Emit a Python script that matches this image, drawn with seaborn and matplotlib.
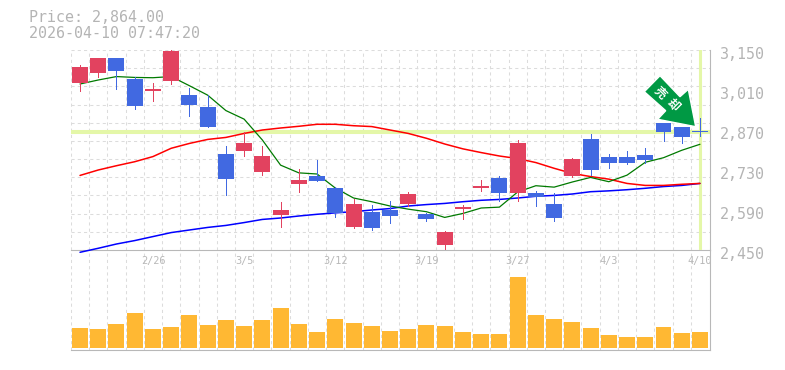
import numpy as np
import pandas as pd
import matplotlib
matplotlib.use("Agg")
import matplotlib.pyplot as plt
import seaborn as sns
from matplotlib.patches import Polygon
from matplotlib.transforms import Affine2D, ScaledTranslation

title_price = "Price: 2,864.00"
title_time = "2026-04-10 07:47:20"
last_price = 2864

opens = [3034.5,3069.5,3122,3048.5,3006.5,3041.5,2992.5,2950.5,2786,2796.5,2723,2572.5,2681,2709,2667,2530.5,2583,2590,2611,2576,2467.5,2593.5,2667,2702,2649.5,2649.5,2611,2709,2838.5,2775.5,2775.5,2782.5,2894.5,2880.5,2866.5]
closes = [3090.5,3122,3076.5,2954,3013.5,3146.5,2957.5,2880.5,2698.5,2824.5,2779,2590,2695,2691.5,2579.5,2611,2527,2569,2646,2558.5,2513,2600.5,2674,2649.5,2824.5,2635.5,2562,2768.5,2730,2754.5,2754.5,2765,2863,2845.5,2863]
highs = [3097.5,3122,3122,3055.5,3034.5,3150,3017,2992.5,2814,2863,2814,2618,2733.5,2765,2670.5,2628.5,2607.5,2621.5,2653,2579.5,2516.5,2607.5,2695,2709,2835,2656.5,2649.5,2772,2856,2786,2796.5,2807,2894.5,2880.5,2912]
lows = [3006.5,3055.5,3013.5,2943.5,2971.5,3031,2919,2880.5,2642.5,2779,2712.5,2530.5,2653,2691.5,2565.5,2527,2520,2544.5,2604,2551.5,2450,2558.5,2656.5,2621.5,2621.5,2604,2551.5,2705.5,2712.5,2737,2751,2754.5,2831.5,2824.5,2849]
ma_short = [3031,3045,3057,3054,3053,3057,3025,2992,2938,2908,2835,2747,2720,2716,2667,2632,2619,2604,2593,2584,2564,2578,2597,2600,2653,2675,2670,2688,2704,2689,2712,2757,2773,2799,2820]
ma_mid = [2711,2730,2745,2759,2777,2806,2823,2837,2844,2858,2870,2877,2883,2890,2890,2885,2882,2870,2858,2841,2821,2804,2791,2779,2770,2756,2736,2718,2707,2698,2683,2676,2676,2680,2683]
ma_long = [2442,2456,2471,2483,2497,2511,2520,2529,2536,2546,2557,2562,2569,2575,2580,2584,2590,2595,2604,2609,2613,2619,2624,2627,2632,2638,2641,2646,2654,2657,2661,2666,2672,2676,2683]
volumes = [20,19,24,35,19,21,33,23,28,22,28,40,24,16,29,25,22,17,19,23,22,16,14,14,71,33,29,26,20,13,11,11,21,15,16]
date_pos = [4,9,14,19,24,29,34]
date_labels = ["2/26","3/5","3/12","3/19","3/27","4/3","4/10"]
price_ticks = [2450,2590,2730,2870,3010,3150]
price_labels = ["2,450","2,590","2,730","2,870","3,010","3,150"]
arrow_text = "売却"

RED = "#e2425f"; BLUE = "#4169e1"; GOLD = "#ffb833"; GREY = "#b8b8b8"; TEXT = "#b4b4b4"
GRID = "#dcdcdc"; HILITE = "#e4f7a8"; ARROW = "#009944"
W, H = 785, 370
MONO = "DejaVu Sans Mono"

sns.set_style("white")
plt.rcParams["font.family"] = [MONO, "Noto Sans CJK JP"]

fig = plt.figure(figsize=(W/100, H/100), dpi=100, facecolor="white")
L, R = 70.9, 710.0
ax = fig.add_axes([L/W, 1-250/H, (R-L)/W, 200/H], zorder=3, facecolor="none")
vx = fig.add_axes([L/W, 1-350/H, (R-L)/W, 100/H], zorder=1, facecolor="white")

idx = np.arange(len(opens))
xlim = (-0.5, 34.55)
dash = (0, (3, 3))

# volume
sns.barplot(x=idx, y=volumes, ax=vx, native_scale=True, color=GOLD, saturation=1,
            width=0.877, linewidth=0, zorder=2)
vx.set_xlim(*xlim); vx.set_ylim(-2, 98)
vx.set_xticks([]); vx.set_yticks([]); vx.set_xlabel(""); vx.set_ylabel("")
vx.spines["left"].set_visible(False)
for s in ["top", "bottom", "right"]:
    vx.spines[s].set_color(GREY); vx.spines[s].set_linewidth(0.8)
for g in idx - 0.5:
    vx.axvline(g, color=GRID, lw=0.75, ls=dash, zorder=1)
    ax.axvline(g, color=GRID, lw=0.75, ls=dash, zorder=1)

# price grid and highlights
ax.set_xlim(*xlim); ax.set_ylim(2450, 3150)
for g in np.linspace(2450, 3150, 12)[1:]:
    ax.axhline(g, color=GRID, lw=0.75, ls=dash, zorder=1)
ax.axhline(last_price, color=HILITE, lw=2.9, zorder=2)
ax.axvline(idx[-1], color=HILITE, lw=2.2, zorder=2)

# moving averages
df = pd.DataFrame({"i": idx, "short": ma_short, "mid": ma_mid, "long": ma_long})
for col, c, w in [("long", "#0000ff", 1.1), ("mid", "#ff0000", 1.1), ("short", "#007a00", 0.9)]:
    sns.lineplot(data=df, x="i", y=col, ax=ax, color=c, zorder=3, clip_on=False, errorbar=None)
    ln = ax.lines[-1]
    ln.set_linewidth(w)

# candles
for i, o, c, h, l in zip(idx, opens, closes, highs, lows):
    col = RED if c >= o else BLUE
    ax.vlines(i, l, h, color=col, lw=0.72, zorder=4, antialiased=False)
    ax.bar(i, abs(c-o), bottom=min(o, c), width=0.877, color=col, linewidth=0, zorder=5)

ax.set_xlim(*xlim); ax.set_ylim(2450, 3150)
ax.set_xlabel(""); ax.set_ylabel("")
ax.spines["left"].set_visible(False); ax.spines["top"].set_visible(False)
ax.spines["bottom"].set_visible(False)
ax.spines["right"].set_color(GREY); ax.spines["right"].set_linewidth(0.8)

ax.set_xticks(date_pos); ax.set_xticklabels(date_labels, fontsize=7.4, color=GREY, family=MONO)
ax.tick_params(axis="x", length=0, pad=4)
ax.yaxis.tick_right()
ax.set_yticks(price_ticks)
ax.set_yticklabels(price_labels, fontsize=10.8, color=TEXT, family=MONO)
ax.tick_params(axis="y", length=0, pad=7)
off = ScaledTranslation(0, -2.7/100, fig.dpi_scale_trans)
for t in ax.get_yticklabels():
    t.set_transform(t.get_transform() + off)

# titles
fig.text(29/W, 1-18/H, title_price, fontsize=10.8, color=TEXT, family=MONO, va="center")
fig.text(29/W, 1-33/H, title_time, fontsize=10.8, color=TEXT, family=MONO, va="center")

# sell arrow badge (pixel-placed decoration)
px = Affine2D().scale(1, -1).translate(0, H)
poly = [(660,75.7),(680,96.7),(688.3,89.3),(695.7,126.7),(657.7,119.3),(665.7,110.7),(644.3,91.7)]
fig.add_artist(Polygon(poly, closed=True, facecolor=ARROW, edgecolor="white", lw=1.0,
                       transform=px, zorder=10))
for ch, (tx, ty) in zip(arrow_text, [(660.3, 93.3), (673.3, 105)]):
    fig.text(tx, ty, ch, transform=px, fontsize=8.5, fontweight="bold", color="white",
             family=["Noto Sans CJK JP"], rotation=-45, rotation_mode="anchor",
             ha="center", va="center", zorder=11)

fig.savefig("out.png", dpi=100, facecolor="white")
